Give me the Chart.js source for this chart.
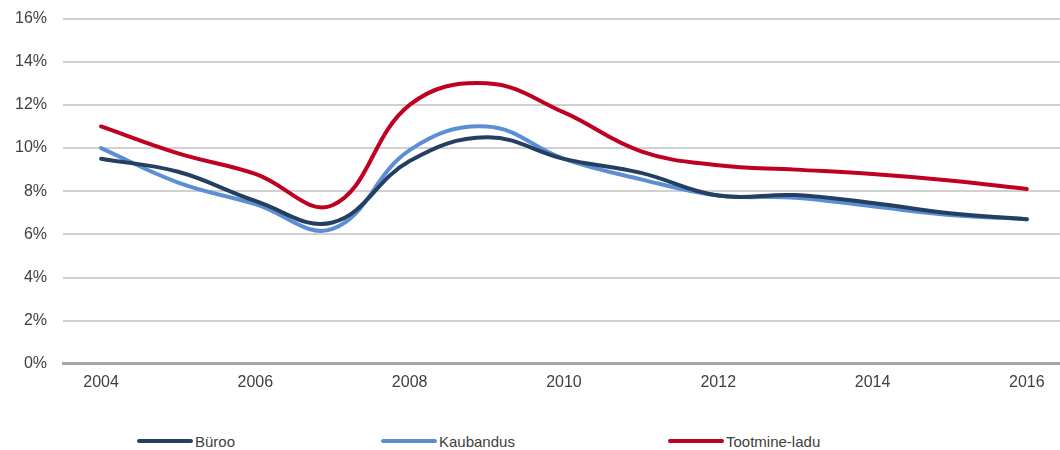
<!DOCTYPE html>
<html>
<head>
<meta charset="utf-8">
<script src="https://cdn.jsdelivr.net/npm/chart.js@4/dist/chart.umd.min.js"></script>
<style>
  html, body { margin: 0; padding: 0; background: #ffffff; overflow: hidden; }
  #wrap { position: relative; width: 1060px; height: 450px; overflow: hidden; }
  #chartBox { position: absolute; left: 0; top: -7px; width: 1060px; height: 417px; }
  .leg { position: absolute; top: 432px; height: 18px; display: flex; align-items: center;
         font-family: "Liberation Sans", Arial, sans-serif; font-size: 15px; color: #404040; }
  .sw { width: 56px; height: 4px; border-radius: 2px; margin-right: 2px; }
</style>
</head>
<body>
<div id="wrap">
  <div id="chartBox"><canvas id="c"></canvas></div>
  <div id="legend"></div>
</div>
<script>
// ---- data ----
const years = [2004, 2005, 2006, 2007, 2008, 2009, 2010, 2011, 2012, 2013, 2014, 2015, 2016];
const tickYears = [2004, 2006, 2008, 2010, 2012, 2014, 2016];
const seriesNames = ["Büroo", "Kaubandus", "Tootmine-ladu"];
const buroo        = [9.5, 8.9, 7.55, 6.55, 9.4, 10.5, 9.5, 8.85, 7.8, 7.82, 7.45, 6.98, 6.7];
const kaubandus    = [10.0, 8.4, 7.4, 6.25, 9.9, 11.0, 9.5, 8.55, 7.8, 7.7, 7.3, 6.9, 6.7];
const tootmineLadu = [11.0, 9.75, 8.8, 7.35, 12.0, 13.0, 11.65, 9.85, 9.2, 9.0, 8.8, 8.5, 8.1];
const yTicks = [0, 2, 4, 6, 8, 10, 12, 14, 16];

const colors = ["#243F60", "#5B8FD5", "#C00020"];
const values = [buroo, kaubandus, tootmineLadu];

const font = "'Liberation Sans', Arial, sans-serif";

const datasets = seriesNames.map((name, i) => ({
  label: name,
  data: years.map((y, j) => ({ x: y, y: values[i][j] })),
  borderColor: colors[i],
  backgroundColor: colors[i],
  borderWidth: 4,
  borderCapStyle: "round",
  borderJoinStyle: "round",
  pointRadius: 0,
  tension: 0.4,
  fill: false
}));

new Chart(document.getElementById("c"), {
  type: "line",
  data: { datasets },
  options: {
    responsive: true,
    maintainAspectRatio: false,
    animation: false,
    layout: { padding: { left: 0, right: 0, top: 11, bottom: 9 } },
    plugins: { legend: { display: false }, tooltip: { enabled: false } },
    scales: {
      x: {
        type: "linear",
        min: 2003.507,
        max: 2016.43,
        afterBuildTicks: (s) => { s.ticks = tickYears.map(v => ({ value: v })); },
        ticks: {
          callback: (v) => String(v),
          color: "#404040",
          font: { family: font, size: 16 },
          padding: 9,
          maxRotation: 0,
          autoSkip: false
        },
        grid: { display: false, drawTicks: false },
        border: { display: true, color: "#A6A6A6", width: 3 }
      },
      y: {
        min: 0,
        max: 16,
        afterBuildTicks: (s) => { s.ticks = yTicks.map(v => ({ value: v })); },
        afterFit: (s) => { s.width = 63; },
        ticks: {
          callback: (v) => v + "%",
          color: "#404040",
          font: { family: font, size: 16 },
          padding: 16
        },
        grid: {
          drawTicks: false,
          color: (ctx) => (ctx.tick && ctx.tick.value === 0) ? "#A6A6A6" : "#D0D0D0",
          lineWidth: (ctx) => (ctx.tick && ctx.tick.value === 0) ? 3 : 2
        },
        border: { display: false }
      }
    }
  }
});

// HTML legend built from the series
const legendLefts = [137, 381, 668];
const legend = document.getElementById("legend");
seriesNames.forEach((name, i) => {
  const item = document.createElement("div");
  item.className = "leg";
  item.style.left = legendLefts[i] + "px";
  const sw = document.createElement("div");
  sw.className = "sw";
  sw.style.background = colors[i];
  const tx = document.createElement("span");
  tx.textContent = name;
  item.appendChild(sw);
  item.appendChild(tx);
  legend.appendChild(item);
});
</script>
</body>
</html>
